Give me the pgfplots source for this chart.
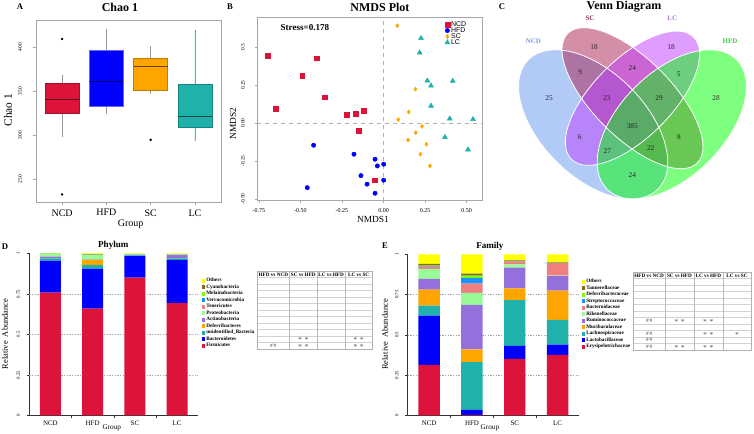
\documentclass[border=0pt]{standalone}
\usepackage{fontspec}
\setmainfont{Liberation Serif}
\newfontfamily\arial{Liberation Sans}
\usepackage{pgfplots}
\pgfplotsset{compat=1.18}
\usepackage{pgfplotstable}
\usepgfplotslibrary{statistics}
\newcommand{\fs}[1]{\fontsize{#1}{#1}\selectfont}
\definecolor{cCrim}{RGB}{220,20,60}
\definecolor{cBlue}{RGB}{0,0,255}
\definecolor{cOrange}{RGB}{255,165,0}
\definecolor{cTeal}{RGB}{32,178,170}
\definecolor{cPurple}{RGB}{147,112,219}
\definecolor{cPale}{RGB}{152,251,152}
\definecolor{cCoral}{RGB}{240,128,128}
\definecolor{cDodger}{RGB}{30,144,255}
\definecolor{cLawn}{RGB}{124,252,0}
\definecolor{cOlive}{RGB}{128,110,20}
\definecolor{cYellow}{RGB}{255,255,0}
\definecolor{vncd}{RGB}{100,149,237}
\definecolor{vsc}{RGB}{170,30,80}
\definecolor{vlc}{RGB}{191,62,255}
\definecolor{vhfd}{RGB}{0,255,0}

\pgfplotstableread{
pos Firm Bact Unid Def Act Prot Ten Ver Mel Cya Oth
1 0.757 0.198 0.014 0.001 0.010 0.015 0.001 0.001 0.001 0.000 0.002
2 0.658 0.247 0.024 0.030 0.002 0.031 0.001 0.001 0.001 0.001 0.004
3 0.850 0.133 0.004 0.001 0.004 0.005 0.000 0.000 0.000 0.000 0.003
4 0.693 0.266 0.010 0.001 0.020 0.004 0.001 0.000 0.000 0.000 0.005
}\phytab

\pgfplotstableread{
pos Ery Lacto Lachno Muri Rumi Rike Bacte Strep Defe Tann Oth
1 0.313 0.306 0.063 0.099 0.066 0.062 0.015 0.002 0.004 0.010 0.060
2 0.002 0.031 0.298 0.079 0.276 0.074 0.058 0.035 0.015 0.012 0.120
3 0.350 0.081 0.284 0.074 0.128 0.021 0.017 0.001 0.001 0.005 0.038
4 0.375 0.064 0.153 0.183 0.089 0.003 0.079 0.001 0.001 0.004 0.048
}\famtab

\pgfplotstableread{
x y
-0.698 0.443
-0.401 0.428
-0.489 0.311
-0.352 0.171
-0.649 0.096
-0.222 0.055
-0.166 0.063
-0.117 0.081
-0.148 -0.051
-0.055 -0.375
}\ncdpts
\pgfplotstableread{
x y
-0.421 -0.145
-0.178 -0.204
-0.051 -0.237
-0.037 -0.281
0.001 -0.270
-0.136 -0.345
-0.099 -0.401
0.001 -0.375
-0.051 -0.461
-0.459 -0.424
}\hfdpts
\pgfplotstableread{
x y
0.083 0.642
0.192 0.224
0.152 0.074
0.089 0.024
0.232 -0.020
0.194 -0.062
0.148 -0.110
0.258 -0.138
0.222 -0.204
0.280 -0.281
}\scpts
\pgfplotstableread{
x y
0.226 0.559
0.218 0.464
0.264 0.280
0.286 0.247
0.417 0.278
0.286 0.114
0.399 0.030
0.539 0.026
0.370 -0.092
0.509 -0.174
}\lcpts

\pgfplotsset{
 every axis title shift=0pt,
 markleg/.style={legend image code/.code={\draw[##1] plot coordinates {(1.6pt,0pt)};}},
 barpanel/.style={
  scale only axis, ybar stacked, bar width=0.5, xmin=0.5, xmax=4.5, ymin=0, ymax=1,
  axis lines*=left, axis line style={draw=black!80, line width=0.5pt},
  xtick={1,2,3,4}, xticklabels={NCD,HFD,SC,LC}, major x tick style={draw=none},
  minor xtick={1.5,2.5,3.5}, minor tick length=2pt, minor x tick style={draw=black!80},
  ytick={0,0.25,0.5,0.75,1}, yticklabels={0,0.25,0.5,0.75,1},
  extra y ticks={0.25,0.5,0.75}, extra y tick labels={},
  extra y tick style={grid=major, major grid style={gray!70, dash pattern=on 1pt off 1pt, line width=0.3pt}},
  tick align=outside, major tick length=2pt, y tick style={draw=black!80},
  /pgf/number format/assume math mode=true,
  xticklabel style={font=\fs{5.2}, yshift=1.5pt},
  yticklabel style={font=\fs{3.6}, rotate=90, anchor=south},
  yticklabel shift=1.5pt,
  xlabel={Group}, ylabel={Relative\ \ Abundance},
  xlabel style={font=\fs{5.4}, anchor=center},
  ylabel style={font=\fs{6.3}, anchor=center},
  title style={font=\bfseries\fs{6.8}, anchor=center},
  legend image code/.code={\fill[##1] (0pt,-1.6pt) rectangle (2.2pt,1.6pt);},
  reverse legend,
  legend style={anchor=north west, draw=none, fill=none, inner sep=0pt, outer sep=0pt,
    row sep=0pt, column sep=0.8pt, font=\bfseries\fs{3.9}, cells={anchor=west},
    nodes={inner sep=0pt, outer sep=0pt, text height=3.375pt, text depth=1.5pt}},
  every axis plot/.append style={draw=none},
 },
}

\begin{document}
\begin{tikzpicture}
\useasboundingbox (0,0) rectangle ({754*0.75pt},{-433*0.75pt});

% ---------------- A: Chao 1 ----------------
\begin{axis}[
 at={({36*0.75pt},{-202*0.75pt})}, anchor=south west, scale only axis,
 width={185*0.75pt}, height={182*0.75pt},
 xmin=0.41, xmax=4.59, ymin=224, ymax=431,
 xtick={1,2,3,4}, xticklabels={NCD,HFD,SC,LC},
 ytick={250,300,350,400},
 axis line style={draw=gray!70}, tick style={draw=gray!70},
 tick pos=left, tick align=outside, major tick length=2pt,
 /pgf/number format/assume math mode=true,
 xticklabel style={font=\fs{7.5}},
 yticklabel style={font=\fs{4}, rotate=90, anchor=south}, yticklabel shift=5pt,
 ylabel={Chao 1}, ylabel style={font=\fs{8.5}, at={(axis description cs:-0.151,0.505)}, anchor=center},
 xlabel={Group}, xlabel style={font=\fs{7.5}, at={(axis description cs:0.512,-0.12)}, anchor=center},
 title={Chao 1}, title style={font=\bfseries\fs{9}, at={(axis description cs:0.454,1.071)}, anchor=center},
 boxplot/draw direction=y,
 boxplot/whisker extend=0,
 boxplot/every whisker/.style={draw=gray!80},
]
\addplot[fill=cCrim, draw=cCrim!75!black, mark=*, mark size=0.7pt, mark options={draw=black,fill=black},
 boxplot/every median/.style={draw=cCrim!45!black, line width=0.9pt},
 boxplot prepared={draw position=1, lower whisker=297.6, lower quartile=324.7, median=340.2,
  upper quartile=358.6, upper whisker=369, box extend=0.77}]
 table[row sep=\\, y index=0] {y\\409.4\\232.6\\};
\addplot[fill=cBlue, draw=cBlue!60!white,
 boxplot/every median/.style={draw=cBlue!45!black, line width=0.9pt},
 boxplot prepared={draw position=2, lower whisker=324, lower quartile=333.4, median=360.8,
  upper quartile=396.3, upper whisker=420.3, box extend=0.77}]
 coordinates {};
\addplot[fill=cOrange, draw=cOrange!75!black, mark=*, mark size=0.7pt, mark options={draw=black,fill=black},
 boxplot/every median/.style={draw=cOrange!40!black, line width=0.9pt},
 boxplot prepared={draw position=3, lower whisker=347.3, lower quartile=351.1, median=378.2,
  upper quartile=387.2, upper whisker=401.1, box extend=0.77}]
 table[row sep=\\, y index=0] {y\\294.7\\};
\addplot[fill=cTeal, draw=cTeal!75!black,
 boxplot/every median/.style={draw=cTeal!40!black, line width=0.9pt},
 boxplot prepared={draw position=4, lower whisker=293.9, lower quartile=308.6, median=321,
  upper quartile=357.9, upper whisker=419.2, box extend=0.77}]
 coordinates {};
\end{axis}

% ---------------- B: NMDS ----------------
\begin{axis}[
 at={({257.3*0.75pt},{-200.7*0.75pt})}, anchor=south west, scale only axis,
 width={225*0.75pt}, height={183.4*0.75pt},
 xmin=-0.76, xmax=0.595, ymin=-0.51, ymax=0.697,
 xtick={-0.75,-0.5,-0.25,0,0.25,0.5}, xticklabels={-0.75,-0.50,-0.25,0.00,0.25,0.50},
 ytick={-0.5,-0.25,0,0.25,0.5}, yticklabels={-0.50,-0.25,0.00,0.25,0.5},
 axis line style={draw=gray!70}, tick style={draw=gray!70},
 tick pos=left, tick align=outside, major tick length=2pt,
 /pgf/number format/assume math mode=true,
 xticklabel style={font=\fs{4.5}},
 yticklabel style={font=\fs{4}, rotate=90, anchor=south}, yticklabel shift=4pt,
 xlabel={NMDS1}, xlabel style={font=\fs{7}, at={(axis description cs:0.514,-0.10)}, anchor=center},
 ylabel={NMDS2}, ylabel style={font=\fs{7}, at={(axis description cs:-0.108,0.42)}, anchor=center},
 title={NMDS Plot}, title style={font=\bfseries\fs{9}, at={(axis description cs:0.545,1.056)}, anchor=center},
 legend style={at={(axis description cs:0.834,0.977)}, anchor=north west, draw=none, fill=none,
   inner sep=0pt, outer sep=0pt, row sep=0pt, column sep=1pt, font=\arial\fs{5.2}, cells={anchor=west},
   nodes={inner sep=0pt, outer sep=0pt, text height=3.4pt, text depth=1.1pt}},
]
\addplot[gray!60, dashed, line width=0.3pt, forget plot] coordinates {(0,-0.51)(0,0.697)};
\addplot[gray!60, dashed, line width=0.3pt, forget plot] coordinates {(-0.76,0)(0.595,0)};
\addplot[only marks, mark=square*, mark size=1.8pt, color=cCrim, markleg] table[x=x,y=y]{\ncdpts};
\addlegendentry{NCD}
\addplot[only marks, mark=*, mark size=1.6pt, color=cBlue, markleg] table[x=x,y=y]{\hfdpts};
\addlegendentry{HFD}
\addplot[only marks, mark=diamond*, mark size=1.5pt, color=cOrange, markleg] table[x=x,y=y]{\scpts};
\addlegendentry{SC}
\addplot[only marks, mark=triangle*, mark size=2.1pt, color=cTeal, markleg] table[x=x,y=y]{\lcpts};
\addlegendentry{LC}
\node[font=\bfseries\fs{6.8}] at (axis cs:-0.473,0.627) {Stress=0.178};
\end{axis}

% ---------------- D: Phylum ----------------
\begin{axis}[barpanel,
 at={({29.3*0.75pt},{-415.3*0.75pt})}, anchor=south west,
 width={169*0.75pt}, height={162*0.75pt},
 title={Phylum}, title style={at={(axis description cs:0.497,1.051)}},
 xlabel style={at={(axis description cs:0.488,-0.08)}},
 ylabel style={at={(axis description cs:-0.144,0.502)}},
 legend style={at={(axis description cs:1.0237,0.8509)}},
]
\addplot[fill=cCrim] table[x=pos,y=Firm]{\phytab}; \addlegendentry{Firmicutes}
\addplot[fill=cBlue] table[x=pos,y=Bact]{\phytab}; \addlegendentry{Bacteroidetes}
\addplot[fill=cTeal] table[x=pos,y=Unid]{\phytab}; \addlegendentry{unidentified\_Bacteria}
\addplot[fill=cOrange] table[x=pos,y=Def]{\phytab}; \addlegendentry{Deferribacteres}
\addplot[fill=cPurple] table[x=pos,y=Act]{\phytab}; \addlegendentry{Actinobacteria}
\addplot[fill=cPale] table[x=pos,y=Prot]{\phytab}; \addlegendentry{Proteobacteria}
\addplot[fill=cCoral] table[x=pos,y=Ten]{\phytab}; \addlegendentry{Tenericutes}
\addplot[fill=cDodger] table[x=pos,y=Ver]{\phytab}; \addlegendentry{Verrucomicrobia}
\addplot[fill=cLawn] table[x=pos,y=Mel]{\phytab}; \addlegendentry{Melainabacteria}
\addplot[fill=cOlive] table[x=pos,y=Cya]{\phytab}; \addlegendentry{Cyanobacteria}
\addplot[fill=cYellow] table[x=pos,y=Oth]{\phytab}; \addlegendentry{Others}
\end{axis}

% ---------------- E: Family ----------------
\begin{axis}[barpanel,
 at={({407.7*0.75pt},{-415.3*0.75pt})}, anchor=south west,
 width={171.3*0.75pt}, height={161*0.75pt},
 title={Family}, title style={at={(axis description cs:0.48,1.05)}},
 xlabel style={at={(axis description cs:0.48,-0.08)}},
 ylabel style={at={(axis description cs:-0.133,0.502)}},
 legend style={at={(axis description cs:1.0193,0.850)}},
]
\addplot[fill=cCrim] table[x=pos,y=Ery]{\famtab}; \addlegendentry{Erysipelotrichaceae}
\addplot[fill=cBlue] table[x=pos,y=Lacto]{\famtab}; \addlegendentry{Lactobacillaceae}
\addplot[fill=cTeal] table[x=pos,y=Lachno]{\famtab}; \addlegendentry{Lachnospiraceae}
\addplot[fill=cOrange] table[x=pos,y=Muri]{\famtab}; \addlegendentry{Muribaculaceae}
\addplot[fill=cPurple] table[x=pos,y=Rumi]{\famtab}; \addlegendentry{Ruminococcaceae}
\addplot[fill=cPale] table[x=pos,y=Rike]{\famtab}; \addlegendentry{Rikenellaceae}
\addplot[fill=cCoral] table[x=pos,y=Bacte]{\famtab}; \addlegendentry{Bacteroidaceae}
\addplot[fill=cDodger] table[x=pos,y=Strep]{\famtab}; \addlegendentry{Streptococcaceae}
\addplot[fill=cLawn] table[x=pos,y=Defe]{\famtab}; \addlegendentry{Deferribacteraceae}
\addplot[fill=cOlive] table[x=pos,y=Tann]{\famtab}; \addlegendentry{Tannerellaceae}
\addplot[fill=cYellow] table[x=pos,y=Oth]{\famtab}; \addlegendentry{Others}
\end{axis}

% ---------------- Venn, tables, letters ----------------
\begin{scope}[x=0.75pt,y=-0.75pt]
 % Venn ellipses
 \fill[vncd, fill opacity=0.5, rotate around={-45:(593.2,124.4)}] (593.2,124.4) ellipse [x radius=91.6, y radius=52.3];
 \fill[vsc, fill opacity=0.5, rotate around={-45:(632.5,98.2)}] (632.5,98.2) ellipse [x radius=91.6, y radius=39.3];
 \fill[vlc, fill opacity=0.5, rotate around={45:(632.5,98.2)}] (632.5,98.2) ellipse [x radius=86.4, y radius=39.3];
 \fill[vhfd, fill opacity=0.5, rotate around={45:(671.8,124.4)}] (671.8,124.4) ellipse [x radius=91.6, y radius=52.3];
 \begin{scope}[white, line width=0.6pt]
 \draw[rotate around={-45:(593.2,124.4)}] (593.2,124.4) ellipse [x radius=91.6, y radius=52.3];
 \draw[rotate around={-45:(632.5,98.2)}] (632.5,98.2) ellipse [x radius=91.6, y radius=39.3];
 \draw[rotate around={45:(632.5,98.2)}] (632.5,98.2) ellipse [x radius=86.4, y radius=39.3];
 \draw[rotate around={45:(671.8,124.4)}] (671.8,124.4) ellipse [x radius=91.6, y radius=52.3];
 \end{scope}
 \begin{scope}[every node/.style={font=\fs{5.5}, text=black!85}]
 \node at (594,46.7) {18};
 \node at (671,46.7) {18};
 \node at (549,97.7) {25};
 \node at (716,97.7) {28};
 \node at (580.3,71.7) {9};
 \node at (632.3,67.7) {24};
 \node at (678.7,74) {5};
 \node at (606.7,97.7) {23};
 \node at (659,97.7) {29};
 \node at (632.3,126) {385};
 \node at (579.7,136.7) {6};
 \node at (679,137.3) {8};
 \node at (607.3,150.7) {27};
 \node at (650.7,148) {22};
 \node at (632.3,174.7) {24};
 \end{scope}
 \node[font=\bfseries\fs{5.2}, text={rgb,255:red,120;green,150;blue,230}] at (533.3,41.7) {NCD};
 \node[font=\bfseries\fs{5.2}, text={rgb,255:red,160;green,60;blue,80}] at (590,18.3) {SC};
 \node[font=\bfseries\fs{5.2}, text={rgb,255:red,170;green,120;blue,230}] at (672.3,18.3) {LC};
 \node[font=\bfseries\fs{5.2}, text={rgb,255:red,60;green,200;blue,60}] at (730,41.7) {HFD};
 \node[font=\bfseries\fs{9}] at (624,7) {Venn Diagram};

 % panel letters
 \node[font=\bfseries\fs{6.5}] at (20,7) {A};
 \node[font=\bfseries\fs{6.5}] at (230,7) {B};
 \node[font=\bfseries\fs{6.5}] at (502,7) {C};
 \node[font=\bfseries\fs{6.5}] at (5,247) {D};
 \node[font=\bfseries\fs{6.5}] at (385,246) {E};

 % D table
 \foreach \i in {0,...,10} \draw[gray!35, line width=0.3pt] (257.3,{277.45+6.5*\i}) -- (372.3,{277.45+6.5*\i});
 \foreach \xx in {289.3,317.3,345} \draw[gray!55, line width=0.3pt] (\xx,271.3) -- (\xx,348.95);
 \draw[gray!60, line width=0.4pt] (257.3,271.3) rectangle (372.3,348.95);
 \begin{scope}[every node/.style={font=\bfseries\fs{3.9}}]
 \node at (273.3,274.4) {HFD vs NCD};
 \node at (303.3,274.4) {SC vs HFD};
 \node at (331.15,274.4) {LC vs HFD};
 \node at (358.65,274.4) {LC vs SC};
 \end{scope}
 \begin{scope}[every node/.style={font=\fs{4}, text=black!75}]
 \node at (303.3,339.2) {$\ast\,\ast$};
 \node at (358.65,339.2) {$\ast\,\ast$};
 \node at (273.3,345.7) {\#\,\#};
 \node at (303.3,345.7) {$\ast\,\ast$};
 \node at (358.65,345.7) {$\ast\,\ast$};
 \end{scope}

 % E table
 \foreach \i in {0,...,10} \draw[gray!35, line width=0.3pt] (633.3,{278.45+6.5*\i}) -- (751.3,{278.45+6.5*\i});
 \foreach \xx in {665,694,722.7} \draw[gray!55, line width=0.3pt] (\xx,272.3) -- (\xx,349.95);
 \draw[gray!60, line width=0.4pt] (633.3,272.3) rectangle (751.3,349.95);
 \begin{scope}[every node/.style={font=\bfseries\fs{3.9}}]
 \node at (649.15,275.4) {HFD vs NCD};
 \node at (679.5,275.4) {SC vs HFD};
 \node at (708.35,275.4) {LC vs HFD};
 \node at (737,275.4) {LC vs SC};
 \end{scope}
 \begin{scope}[every node/.style={font=\fs{4}, text=black!75}]
 \node at (649.15,320.7) {\#\,\#};
 \node at (679.5,320.7) {$\ast\,\ast$};
 \node at (708.35,320.7) {$\ast\,\ast$};
 \node at (649.15,333.7) {\#\,\#};
 \node at (708.35,333.7) {$\ast\,\ast$};
 \node at (737,333.7) {$\ast$};
 \node at (649.15,340.2) {\#\,\#};
 \node at (649.15,346.7) {\#\,\#};
 \node at (679.5,346.7) {$\ast\,\ast$};
 \node at (708.35,346.7) {$\ast\,\ast$};
 \end{scope}
\end{scope}
\end{tikzpicture}
\end{document}
